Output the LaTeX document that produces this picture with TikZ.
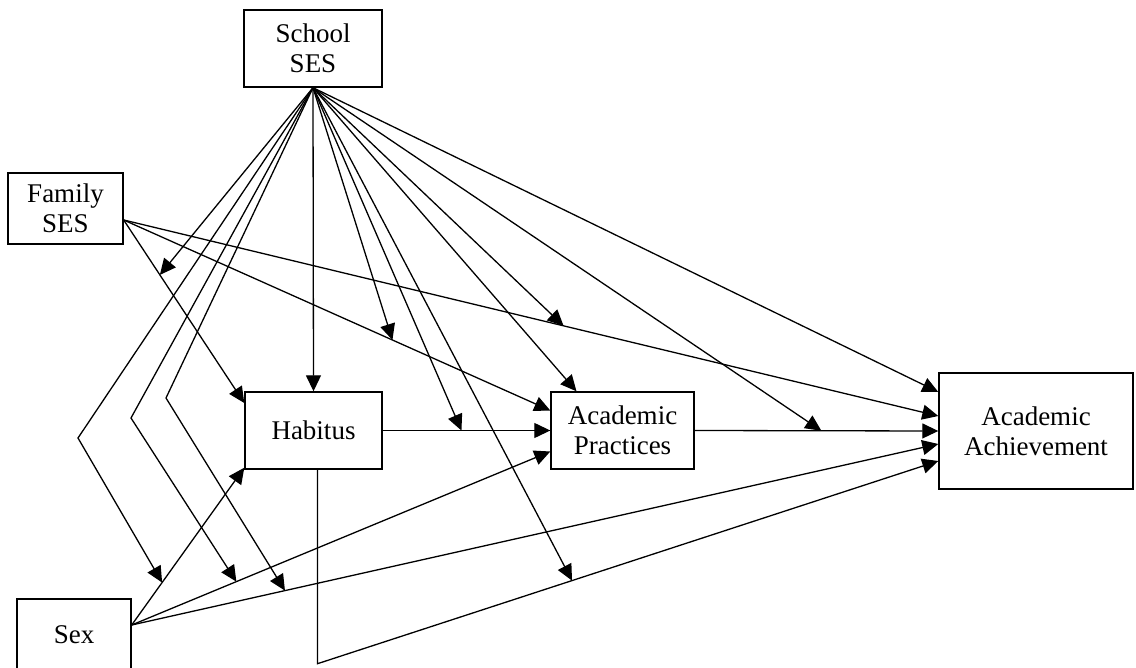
\documentclass[tikz,border=0pt]{standalone}
\usepackage{fontspec}
\setmainfont{Liberation Serif}
\usetikzlibrary{arrows.meta,calc}
\begin{document}
\begin{tikzpicture}[x=1pt,y=-1pt,
  box/.style={draw,line width=1.4pt,align=center,font=\fontsize{27}{30}\selectfont,inner sep=0pt},
  arr/.style={line width=1.3pt,-{Triangle[length=16pt,width=15pt]}}]
\clip (0,0) rectangle (1136,668);
\fill[white] (0,0) rectangle (1136,668);
\node[box,minimum width=138pt,minimum height=77pt] (sch) at (313,48.5) {School\\SES};
\node[box,minimum width=115pt,minimum height=71pt] (fam) at (65.5,208.5) {Family\\SES};
\node[box,minimum width=137pt,minimum height=77pt] (hab) at (313.5,430.5) {Habitus};
\node[box,minimum width=143pt,minimum height=77pt] (ap) at (622.5,430.5) {Academic\\Practices};
\node[box,minimum width=194pt,minimum height=116pt] (aa) at (1036,431) {Academic\\Achievement};
\node[box,minimum width=114pt,minimum height=82pt] (sex) at (74,640) {\raisebox{10pt}{Sex}};
% main paths
\draw[arr] (sch.south) -- (hab.north);
\draw[arr] (hab.east) -- coordinate[pos=0.47] (m4) (ap.west);
\draw[arr] (ap.east) -- coordinate[pos=0.52] (m5) (aa.west);
\draw[arr] ([yshift=-11.5pt]fam.east) -- coordinate[pos=0.30] (m1) ([yshift=27.5pt]hab.west);
\draw[arr] ([yshift=-11.5pt]fam.east) -- coordinate[pos=0.63] (m2) ([yshift=20pt]ap.west);
\draw[arr] ([yshift=-11.5pt]fam.east) -- coordinate[pos=0.54] (m3) ([yshift=15pt]aa.west);
\draw[arr] ([yshift=15pt]sex.east) -- coordinate[pos=0.27] (m6) ([yshift=2pt]hab.south west);
\draw[arr] ([yshift=15pt]sex.east) -- coordinate[pos=0.25] (m7) ([yshift=-21pt]ap.west);
\draw[arr] ([yshift=15pt]sex.east) -- coordinate[pos=0.19] (m8) ([yshift=-13pt]aa.west);
\draw[arr] ([xshift=4pt]hab.south) -- ++(0,194) -- coordinate[pos=0.41] (m9) ([yshift=-30pt]aa.west);
% moderation paths from School SES
\draw[arr] (sch.south) -- (m1);
\draw[arr] (sch.south) -- (m2);
\draw[arr] (sch.south) -- (m3);
\draw[arr] (sch.south) -- (m4);
\draw[arr] (sch.south) -- (m5);
\draw[arr] (sch.south) -- (78,438) -- (m6);
\draw[arr] (sch.south) -- (131,418) -- (m7);
\draw[arr] (sch.south) -- (166,398) -- (m8);
\draw[arr] (sch.south) -- (m9);
\draw[arr] (sch.south) -- ([xshift=-46pt]ap.north);
\draw[arr] (sch.south) -- ([yshift=39pt]aa.west);
\end{tikzpicture}
\end{document}
